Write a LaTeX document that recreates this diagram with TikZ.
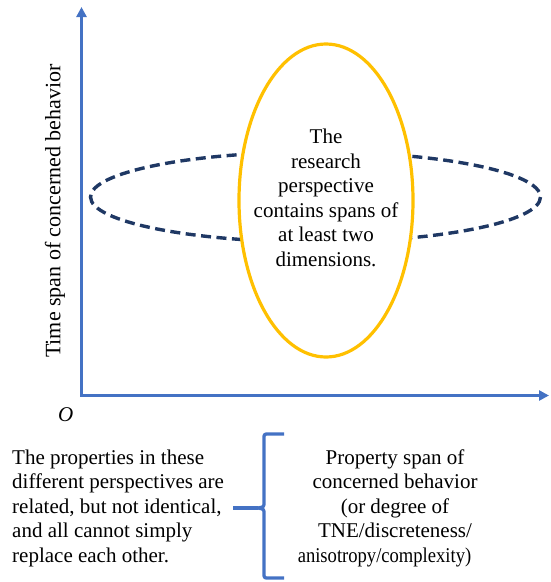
\documentclass[tikz,border=0pt]{standalone}
\usepackage{graphicx}
\usepackage{fontspec}
\setmainfont{Liberation Serif}
\usetikzlibrary{arrows.meta}
\definecolor{axisblue}{HTML}{4472C4}
\definecolor{navy}{HTML}{1F3864}
\definecolor{gold}{HTML}{FFC000}
\begin{document}
\begin{tikzpicture}[x=1pt,y=-1pt,
  axis/.style={draw=axisblue,line width=3.3pt,line join=miter,{Triangle[length=10pt,width=10pt]}-{Triangle[length=10pt,width=10pt]}},
  brace/.style={draw=axisblue,line width=3.3pt,line join=round},
  txt/.style={font=\fontsize{21}{24.5}\selectfont,align=center,inner sep=0pt},
  ltxt/.style={font=\fontsize{21}{24.5}\selectfont,align=left,inner sep=0pt}]
\useasboundingbox (0,0) rectangle (550,582);
\coordinate (orig) at (81.5,395.5);
\coordinate (ytop) at (81.5,7);
\coordinate (xend) at (549,395.5);
% dashed ellipse
\draw[navy,line width=3.4pt,dash pattern=on 10pt off 5.5pt] (315.5,197) ellipse [x radius=225, y radius=45];
% yellow ellipse
\draw[gold,line width=3.2pt,fill=white] (326,200.5) ellipse [x radius=87, y radius=156.5];
\node[txt] (center) at (326,198) {The\\research\\perspective\\contains spans of\\at least two\\dimensions.};
% axes
\draw[axis] (ytop) -- (orig) -- (xend);
\node[font=\fontsize{21}{24}\selectfont\itshape,inner sep=0pt,anchor=base west] (o) at (58,421) {O};
\node[font=\fontsize{22}{24}\selectfont,rotate=90,inner sep=0pt] (ylab) at (55,211) {Time span of concerned behavior};
% bottom left text
\node[ltxt,anchor=west] (left) at (12,508) {The properties in these\\different perspectives are\\related, but not identical,\\and all cannot simply\\replace each other.};
% brace
\coordinate (btop) at (284,434);
\coordinate (bbot) at (284,578);
\coordinate (btip) at (258,508);
\coordinate (bstem) at (233,508);
\draw[brace] (btop) -- (269,434) .. controls (264,434) .. (264,439) -- (264,502) .. controls (264,507) .. (btip) .. controls (264,509) .. (264,514) -- (264,573) .. controls (264,578) .. (269,578) -- (bbot);
\draw[brace] (bstem) -- (btip);
% right text
\node[txt] (right) at (395,508) {Property span of\\concerned behavior\\(or degree of\\TNE/discreteness/\\\hspace*{-21pt}\scalebox{0.885}[1]{anisotropy/complexity)}};
\end{tikzpicture}
\end{document}
